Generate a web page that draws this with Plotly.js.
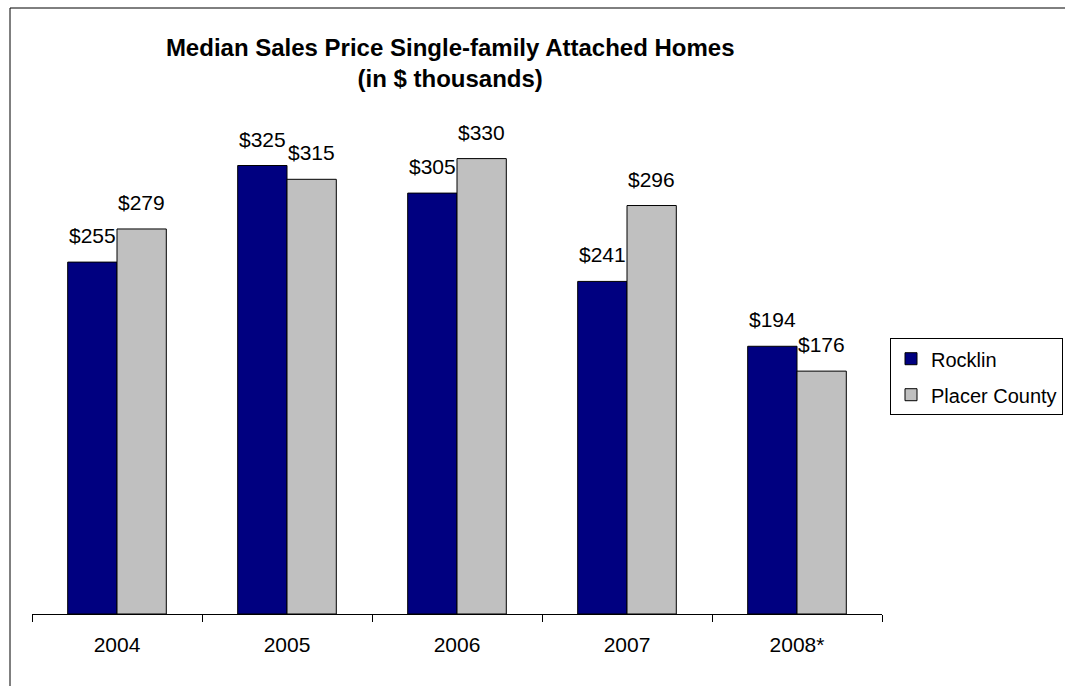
<!DOCTYPE html>
<html>
<head>
<meta charset="utf-8">
<script src="https://cdn.plot.ly/plotly-3.0.1.min.js"></script>
<style>
  html, body { margin: 0; padding: 0; background: #fff; overflow: hidden; }
  #chart { width: 1065px; height: 686px; }
</style>
</head>
<body>
<div id="chart"></div>
<script>
const categories = ['2004', '2005', '2006', '2007', '2008*'];
const rocklin = [255, 325, 305, 241, 194];
const placerCounty = [279, 315, 330, 296, 176];
const seriesNames = ['Rocklin', 'Placer County'];

const font = 'Arial, "Liberation Sans", sans-serif';
const W = 1065, H = 686;
const margin = { l: 32, r: 183, t: 131, b: 72, autoexpand: false };
const plotW = W - margin.l - margin.r;
const plotH = H - margin.t - margin.b;
const bargap = 0.42;
const catPx = plotW / categories.length;
const halfBar = catPx * (1 - bargap) / 4;

// outer frame (top and left edges only), in paper units from pixel offsets
const frameLeft = (10 - margin.l) / plotW;
const frameTop = (H - margin.b - 8) / plotH;

const traces = [
  {
    type: 'bar', name: seriesNames[0], x: categories, y: rocklin, legendgroup: 'a',
    marker: { color: '#000080', line: { color: '#000000', width: 1 } },
    hoverinfo: 'x+y'
  },
  {
    type: 'bar', name: seriesNames[1], x: categories, y: placerCounty, legendgroup: 'b',
    marker: { color: '#C0C0C0', line: { color: '#000000', width: 1 } },
    hoverinfo: 'x+y'
  }
];

const annotations = [];
[rocklin, placerCounty].forEach((vals, si) => {
  vals.forEach((v, i) => {
    annotations.push({
      x: i, y: v, xref: 'x', yref: 'y',
      text: '$' + v, showarrow: false,
      xanchor: 'center', yanchor: 'bottom',
      xshift: si === 0 ? -halfBar : halfBar, yshift: 13,
      font: { family: font, size: 21, color: '#000' }
    });
  });
});

const layout = {
  width: W, height: H,
  margin: margin,
  paper_bgcolor: '#fff', plot_bgcolor: '#fff',
  font: { family: font, size: 20, color: '#000' },
  title: {
    text: '<b>Median Sales Price Single-family Attached Homes<br>(in $ thousands)</b>',
    font: { family: font, size: 24, color: '#000' },
    x: 0.492, xref: 'paper', xanchor: 'center',
    y: 1 - 56 / H, yref: 'container', yanchor: 'top'
  },
  barmode: 'group', bargap: bargap, bargroupgap: 0,
  xaxis: {
    type: 'category', categoryorder: 'array', categoryarray: categories,
    range: [-0.5, categories.length - 0.5],
    showline: true, linecolor: '#000', linewidth: 1,
    ticks: 'outside', tickson: 'boundaries', ticklen: 7, tickcolor: '#000',
    ticklabelstandoff: 12,
    tickfont: { family: font, size: 21, color: '#000' },
    showgrid: false, zeroline: false
  },
  yaxis: { visible: false, range: [0, 350], showgrid: false, zeroline: false },
  annotations: annotations,
  shapes: [
    { type: 'line', xref: 'paper', yref: 'paper', x0: frameLeft, x1: 1.5, y0: frameTop, y1: frameTop,
      line: { color: '#000', width: 1 } },
    { type: 'line', xref: 'paper', yref: 'paper', x0: frameLeft, x1: frameLeft, y0: frameTop, y1: -0.5,
      line: { color: '#000', width: 1 } }
  ],
  showlegend: true,
  legend: {
    x: (890 - margin.l) / plotW, xanchor: 'left', y: 0.571, yanchor: 'top',
    bordercolor: '#000', borderwidth: 1, bgcolor: '#fff',
    font: { family: font, size: 20, color: '#000' },
    traceorder: 'grouped', tracegroupgap: 7, itemwidth: 30
  }
};

Plotly.newPlot('chart', traces, layout, { displayModeBar: false, staticPlot: true });
</script>
</body>
</html>
